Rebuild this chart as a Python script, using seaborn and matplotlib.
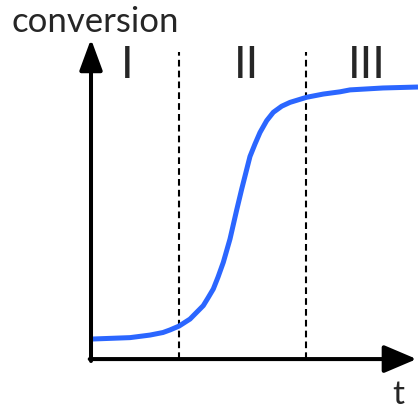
import matplotlib
matplotlib.use("Agg")
import matplotlib.pyplot as plt
import seaborn as sns
import pandas as pd

# time (arbitrary units) vs conversion
t_vals = [0.0, 1.204, 1.821, 2.222, 2.438, 2.716, 3.056, 3.241, 3.466, 3.611,
          3.775, 3.92, 4.083, 4.290, 4.497, 4.651, 4.907, 5.062, 5.216, 5.423,
          5.627, 5.886, 6.142, 6.657, 7.170, 7.685, 7.994, 9.012, 10.093]
conversion = [0.0625, 0.067, 0.075, 0.083, 0.091, 0.103, 0.125, 0.144, 0.167, 0.191,
              0.219, 0.256, 0.302, 0.375, 0.466, 0.531, 0.633, 0.672, 0.708, 0.745,
              0.771, 0.790, 0.802, 0.818, 0.828, 0.835, 0.841, 0.847, 0.85]
region_bounds = [2.72, 6.65]
region_labels = ["I", "II", "III"]
region_label_t = [1.11, 4.81, 8.52]

sns.set_style("white")
plt.rcParams['font.family'] = ['Lato', 'DejaVu Sans']

fig = plt.figure(figsize=(4.18, 4.10), dpi=100)
ax = fig.add_axes([0, 0, 1, 1])
ax.set_xlim(-2.809, 10.093)
ax.set_ylim(-0.156, 1.125)
ax.axis('off')

df = pd.DataFrame({'t': t_vals, 'conversion': conversion})
sns.lineplot(data=df, x='t', y='conversion', ax=ax, color='#2b66ff', lw=3.6,
             sort=False, solid_capstyle='butt', solid_joinstyle='round', zorder=3)

# region boundaries
for b in region_bounds:
    ax.plot([b, b], [0, 0.96], color='black', lw=1.5, dashes=(3.2, 2), zorder=2)

# axes arrows
ax.annotate('', xy=(10.05, 0), xytext=(-0.04, 0),
            arrowprops=dict(arrowstyle='-|>,head_length=2.0,head_width=0.85',
                            color='black', lw=2.9, shrinkA=0, shrinkB=0))
ax.annotate('', xy=(0, 1.0), xytext=(0, -0.006),
            arrowprops=dict(arrowstyle='-|>,head_length=1.9,head_width=0.7',
                            color='black', lw=2.9, shrinkA=0, shrinkB=0))

ax.text(0.14, 1.056, 'conversion', fontsize=25, ha='center', va='center')
ax.text(9.48, -0.108, 't', fontsize=24, ha='center', va='center')
for lab, x in zip(region_labels, region_label_t):
    ax.text(x, 0.919, lab, fontsize=32, ha='center', va='center')

fig.savefig('out.png', dpi=100)
